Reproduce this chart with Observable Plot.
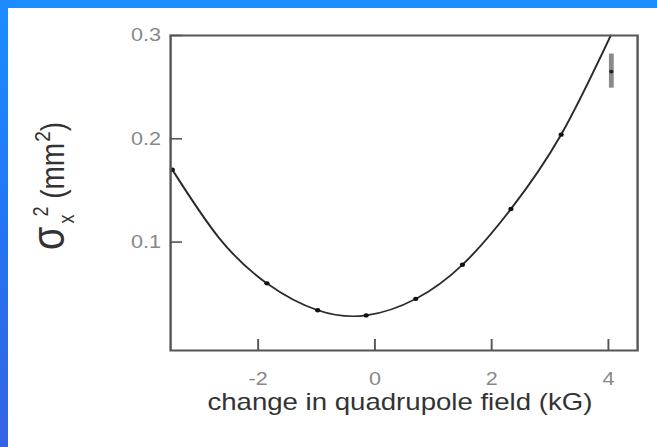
<!DOCTYPE html>
<html>
<head>
<meta charset="utf-8">
<script src="https://cdn.jsdelivr.net/npm/d3@7"></script>
<script src="https://cdn.jsdelivr.net/npm/@observablehq/plot@0.6"></script>
<style>
html, body { margin: 0; padding: 0; width: 657px; height: 447px; overflow: hidden; }
body { background: linear-gradient(180deg, #1b8dff 0%, #2473f0 55%, #3563e6 100%); position: relative; }
#panel { position: absolute; left: 8px; top: 8px; right: 0; bottom: 0; background: #fff; }
#chart { position: absolute; left: 0; top: 0; }
#chart svg { transform: scaleX(1.2); transform-origin: 0 0; overflow: visible; }
</style>
</head>
<body>
<div id="panel"></div>
<div id="chart"></div>
<script>
// Fitted curve
const curveX = [-3.47, -2.67, -1.85, -0.98, -0.15, 0.70, 1.50, 2.33, 3.19, 4.04];
const curveY = [0.170, 0.104, 0.060, 0.034, 0.029, 0.045, 0.078, 0.132, 0.204, 0.300];
// Measured points
const dotX = [-3.47, -1.85, -0.98, -0.15, 0.70, 1.50, 2.33, 3.19];
const dotY = [0.170, 0.060, 0.034, 0.029, 0.045, 0.078, 0.132, 0.204];
// Error bar
const errX = [4.05];
const errLo = [0.249];
const errHi = [0.282];
const errMid = [0.265];
// Axes
const xTicks = [-2, 0, 2, 4];
const yTicks = [0.1, 0.2, 0.3];
const xDomain = [-3.5, 4.5];
const yDomain = [-0.005, 0.3];
const xTitle = "change in quadrupole field (kG)";

const curve = curveX.map((x, i) => ({x, y: curveY[i]}));
const dots = dotX.map((x, i) => ({x, y: dotY[i]}));
const errs = errX.map((x, i) => ({x, lo: errLo[i], hi: errHi[i], mid: errMid[i]}));

const S = 1.2;               // horizontal stretch of the original picture
const W = 657 / S;
const H = 447;
const mL = 170 / S, mR = 20 / S, mT = 35, mB = 97;
const frameH = H - mT - mB;
const frameW = W - mL - mR;
const FONT = "'Liberation Sans', Arial, sans-serif";

const chart = Plot.plot({
  width: W,
  height: H,
  marginLeft: mL,
  marginRight: mR,
  marginTop: mT,
  marginBottom: mB,
  style: {fontFamily: FONT, background: "transparent", overflow: "visible"},
  x: {domain: xDomain, axis: null},
  y: {domain: yDomain, axis: null},
  marks: [
    Plot.ruleX(xTicks, {stroke: "#555", strokeWidth: 1.6, insetTop: frameH - 11}),
    Plot.ruleY(yTicks, {stroke: "#555", strokeWidth: 1.6, insetRight: frameW - 10}),
    Plot.axisX(xTicks, {tickSize: 0, tickPadding: 22, fontSize: 18, color: "#888", label: null, tickFormat: d => String(d)}),
    Plot.axisY(yTicks, {tickSize: 0, tickPadding: 8, fontSize: 18, color: "#888", label: null, tickFormat: d => d.toFixed(1)}),
    Plot.line(curve, {x: "x", y: "y", curve: "natural", stroke: "#2a2a2a", strokeWidth: 1.7}),
    Plot.dot(dots, {x: "x", y: "y", r: 2.2, fill: "#111", stroke: null}),
    Plot.ruleX(errs, {x: "x", y1: "lo", y2: "hi", stroke: "#8a8a8a", strokeWidth: 4}),
    Plot.dot(errs, {x: "x", y: "mid", r: 1.8, fill: "#222", stroke: null}),
    Plot.frame({stroke: "#555", strokeWidth: 2})
  ]
});
document.getElementById("chart").appendChild(chart);

const svg = d3.select(chart);
// x axis title
svg.append("text")
  .attr("x", mL + frameW / 2 - 3)
  .attr("y", 410)
  .attr("text-anchor", "middle")
  .attr("fill", "#333")
  .attr("font-size", 23)
  .attr("font-family", FONT)
  .text(xTitle);
// y axis title: sigma_x^2 (mm^2)
const yl = svg.append("text")
  .attr("transform", `translate(${64 / S},186) rotate(-90)`)
  .attr("text-anchor", "middle")
  .attr("fill", "#333")
  .attr("font-family", FONT);
yl.append("tspan").attr("font-size", 38).text("σ");
yl.append("tspan").attr("font-size", 18).attr("dx", 3).attr("dy", 8).text("x");
yl.append("tspan").attr("font-size", 18).attr("dx", -2).attr("dy", -21).text("2");
yl.append("tspan").attr("font-size", 28).attr("dy", 13).text(" (mm");
yl.append("tspan").attr("font-size", 19).attr("dx", 1).attr("dy", -12).text("2");
yl.append("tspan").attr("font-size", 28).attr("dy", 12).text(")");
</script>
</body>
</html>
